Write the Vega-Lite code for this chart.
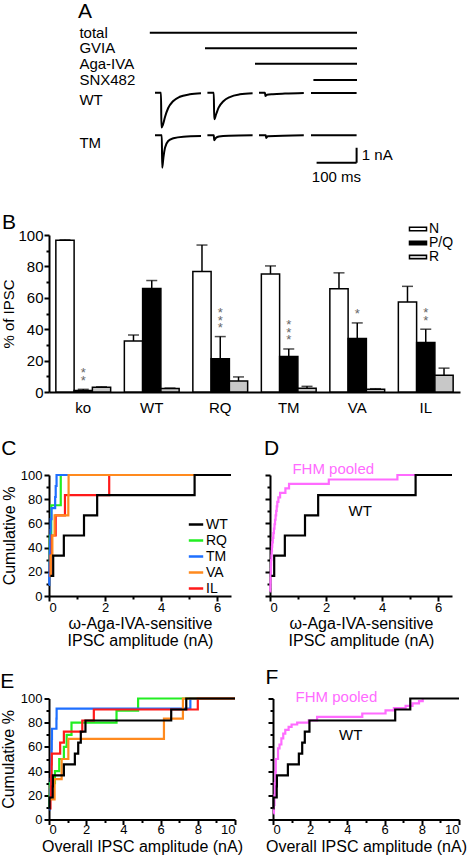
{
  "$schema": "https://vega.github.io/schema/vega-lite/v6.json",
  "background": "white",
  "padding": {"left": 0, "top": 0, "right": 0, "bottom": 0},
  "config": {
    "font": "Liberation Sans",
    "view": {"stroke": null},
    "axis": {"domainColor": "black", "domainWidth": 2, "tickColor": "black", "tickWidth": 2, "tickSize": 5, "labelColor": "black", "titleColor": "black", "labelFont": "Liberation Sans", "titleFont": "Liberation Sans", "titleFontWeight": "normal", "grid": false, "labelFontSize": 13, "titleFontSize": 16, "labelPadding": 2, "labelOverlap": false},
    "title": {"fontSize": 21, "fontWeight": "normal", "anchor": "start", "frame": "bounds", "color": "black", "font": "Liberation Sans", "baseline": "alphabetic"},
    "legend": {"labelFont": "Liberation Sans", "labelColor": "black", "padding": 0}
  },
  "resolve": {"scale": {"color": "independent", "fill": "independent"}, "legend": {"color": "independent", "fill": "independent"}},
  "datasets": {
    "protocol": [
      {"label": "total", "from": 362, "to": 880, "level": 10.22},
      {"label": "GVIA", "from": 500, "to": 880, "level": 9.18},
      {"label": "Aga-IVA", "from": 625, "to": 880, "level": 8.15},
      {"label": "SNX482", "from": 771, "to": 880, "level": 7.07}
    ],
    "rowLabels": [
      {"label": "total", "level": 10.22},
      {"label": "GVIA", "level": 9.18},
      {"label": "Aga-IVA", "level": 8.15},
      {"label": "SNX482", "level": 7.07},
      {"label": "WT", "level": 5.71},
      {"label": "TM", "level": 2.89}
    ],
    "traces": [
      {"genotype": "WT", "sweep": 1, "t": 375, "I": 6.22}, {"genotype": "WT", "sweep": 1, "t": 390, "I": 6.22}, {"genotype": "WT", "sweep": 1, "t": 391, "I": 3.9}, {"genotype": "WT", "sweep": 1, "t": 395, "I": 4.1}, {"genotype": "WT", "sweep": 1, "t": 400, "I": 4.6}, {"genotype": "WT", "sweep": 1, "t": 408, "I": 5.2}, {"genotype": "WT", "sweep": 1, "t": 420, "I": 5.65}, {"genotype": "WT", "sweep": 1, "t": 437, "I": 5.95}, {"genotype": "WT", "sweep": 1, "t": 462, "I": 6.11}, {"genotype": "WT", "sweep": 1, "t": 490, "I": 6.18},
      {"genotype": "WT", "sweep": 2, "t": 506, "I": 6.22}, {"genotype": "WT", "sweep": 2, "t": 522, "I": 6.22}, {"genotype": "WT", "sweep": 2, "t": 523, "I": 4.45}, {"genotype": "WT", "sweep": 2, "t": 528, "I": 4.8}, {"genotype": "WT", "sweep": 2, "t": 534, "I": 5.22}, {"genotype": "WT", "sweep": 2, "t": 546, "I": 5.65}, {"genotype": "WT", "sweep": 2, "t": 562, "I": 5.93}, {"genotype": "WT", "sweep": 2, "t": 587, "I": 6.11}, {"genotype": "WT", "sweep": 2, "t": 619, "I": 6.18},
      {"genotype": "WT", "sweep": 3, "t": 635, "I": 6.22}, {"genotype": "WT", "sweep": 3, "t": 650, "I": 6.22}, {"genotype": "WT", "sweep": 3, "t": 651, "I": 6.0}, {"genotype": "WT", "sweep": 3, "t": 655, "I": 6.08}, {"genotype": "WT", "sweep": 3, "t": 670, "I": 6.12}, {"genotype": "WT", "sweep": 3, "t": 700, "I": 6.16}, {"genotype": "WT", "sweep": 3, "t": 747, "I": 6.2},
      {"genotype": "WT", "sweep": 4, "t": 765, "I": 6.2}, {"genotype": "WT", "sweep": 4, "t": 879, "I": 6.2},
      {"genotype": "TM", "sweep": 1, "t": 375, "I": 3.38}, {"genotype": "TM", "sweep": 1, "t": 392, "I": 3.38}, {"genotype": "TM", "sweep": 1, "t": 393, "I": 1.22}, {"genotype": "TM", "sweep": 1, "t": 396, "I": 1.9}, {"genotype": "TM", "sweep": 1, "t": 400, "I": 2.55}, {"genotype": "TM", "sweep": 1, "t": 408, "I": 3.0}, {"genotype": "TM", "sweep": 1, "t": 421, "I": 3.18}, {"genotype": "TM", "sweep": 1, "t": 446, "I": 3.29}, {"genotype": "TM", "sweep": 1, "t": 490, "I": 3.33},
      {"genotype": "TM", "sweep": 2, "t": 506, "I": 3.38}, {"genotype": "TM", "sweep": 2, "t": 522, "I": 3.38}, {"genotype": "TM", "sweep": 2, "t": 523, "I": 3.05}, {"genotype": "TM", "sweep": 2, "t": 527, "I": 3.2}, {"genotype": "TM", "sweep": 2, "t": 535, "I": 3.3}, {"genotype": "TM", "sweep": 2, "t": 560, "I": 3.35}, {"genotype": "TM", "sweep": 2, "t": 619, "I": 3.38},
      {"genotype": "TM", "sweep": 3, "t": 635, "I": 3.38}, {"genotype": "TM", "sweep": 3, "t": 652, "I": 3.38}, {"genotype": "TM", "sweep": 3, "t": 653, "I": 3.2}, {"genotype": "TM", "sweep": 3, "t": 657, "I": 3.32}, {"genotype": "TM", "sweep": 3, "t": 747, "I": 3.38},
      {"genotype": "TM", "sweep": 4, "t": 765, "I": 3.38}, {"genotype": "TM", "sweep": 4, "t": 879, "I": 3.38}
    ],
    "scalebar": [
      {"t1": 779, "t2": 879, "I1": 1.55, "I2": 1.55},
      {"t1": 879, "t2": 879, "I1": 1.55, "I2": 2.55}
    ],
    "scalebarLabels": [
      {"text": "1 nA", "t": 892, "I": 2.07},
      {"text": "100 ms", "t": 767, "I": 0.6}
    ],
    "channels": [
      {"genotype": "ko", "type": "N", "pct": 96.6, "upper": 96.9, "stars": ""},
      {"genotype": "ko", "type": "P/Q", "pct": 1.0, "upper": 1.7, "stars": "*\n*"},
      {"genotype": "ko", "type": "R", "pct": 3.0, "upper": 3.3, "stars": ""},
      {"genotype": "WT", "type": "N", "pct": 32.5, "upper": 36.3, "stars": ""},
      {"genotype": "WT", "type": "P/Q", "pct": 66.0, "upper": 71.0, "stars": ""},
      {"genotype": "WT", "type": "R", "pct": 2.3, "upper": 2.5, "stars": ""},
      {"genotype": "RQ", "type": "N", "pct": 76.7, "upper": 93.6, "stars": ""},
      {"genotype": "RQ", "type": "P/Q", "pct": 21.2, "upper": 35.3, "stars": "*\n*\n*"},
      {"genotype": "RQ", "type": "R", "pct": 7.0, "upper": 9.6, "stars": ""},
      {"genotype": "TM", "type": "N", "pct": 75.2, "upper": 80.3, "stars": ""},
      {"genotype": "TM", "type": "P/Q", "pct": 22.6, "upper": 27.4, "stars": "*\n*\n*"},
      {"genotype": "TM", "type": "R", "pct": 2.4, "upper": 3.6, "stars": ""},
      {"genotype": "VA", "type": "N", "pct": 65.8, "upper": 75.9, "stars": ""},
      {"genotype": "VA", "type": "P/Q", "pct": 34.0, "upper": 44.0, "stars": "*"},
      {"genotype": "VA", "type": "R", "pct": 1.7, "upper": 2.1, "stars": ""},
      {"genotype": "IL", "type": "N", "pct": 57.3, "upper": 67.3, "stars": ""},
      {"genotype": "IL", "type": "P/Q", "pct": 31.6, "upper": 40.0, "stars": "*\n*"},
      {"genotype": "IL", "type": "R", "pct": 10.7, "upper": 15.2, "stars": ""}
    ],
    "aga": [
      {"genotype": "RQ", "amp": 0.01, "cum": 25}, {"genotype": "RQ", "amp": 0.03, "cum": 50}, {"genotype": "RQ", "amp": 0.08, "cum": 75}, {"genotype": "RQ", "amp": 0.42, "cum": 100}, {"genotype": "RQ", "amp": 6.5, "cum": 100},
      {"genotype": "TM", "amp": 0.0, "cum": 9.1}, {"genotype": "TM", "amp": 0.01, "cum": 18.2}, {"genotype": "TM", "amp": 0.02, "cum": 27.3}, {"genotype": "TM", "amp": 0.03, "cum": 36.4}, {"genotype": "TM", "amp": 0.04, "cum": 45.5}, {"genotype": "TM", "amp": 0.05, "cum": 54.5}, {"genotype": "TM", "amp": 0.06, "cum": 63.6}, {"genotype": "TM", "amp": 0.09, "cum": 72.7}, {"genotype": "TM", "amp": 0.22, "cum": 81.8}, {"genotype": "TM", "amp": 0.24, "cum": 90.9}, {"genotype": "TM", "amp": 0.27, "cum": 100}, {"genotype": "TM", "amp": 6.5, "cum": 100},
      {"genotype": "IL", "amp": 0.02, "cum": 16.7}, {"genotype": "IL", "amp": 0.06, "cum": 33.3}, {"genotype": "IL", "amp": 0.1, "cum": 50}, {"genotype": "IL", "amp": 0.24, "cum": 66.7}, {"genotype": "IL", "amp": 0.57, "cum": 83.3}, {"genotype": "IL", "amp": 2.15, "cum": 100}, {"genotype": "IL", "amp": 6.5, "cum": 100},
      {"genotype": "VA", "amp": 0.02, "cum": 16.7}, {"genotype": "VA", "amp": 0.06, "cum": 33.3}, {"genotype": "VA", "amp": 0.12, "cum": 50}, {"genotype": "VA", "amp": 0.2, "cum": 66.7}, {"genotype": "VA", "amp": 0.69, "cum": 83.3}, {"genotype": "VA", "amp": 0.7, "cum": 100}, {"genotype": "VA", "amp": 6.5, "cum": 100},
      {"genotype": "WT", "amp": 0.05, "cum": 16.7}, {"genotype": "WT", "amp": 0.15, "cum": 33.3}, {"genotype": "WT", "amp": 0.53, "cum": 50}, {"genotype": "WT", "amp": 1.25, "cum": 66.7}, {"genotype": "WT", "amp": 1.72, "cum": 83.3}, {"genotype": "WT", "amp": 5.2, "cum": 100}, {"genotype": "WT", "amp": 6.5, "cum": 100}
    ],
    "agaPooled": [
      {"group": "FHM pooled", "amp": 0.005, "cum": 3.7}, {"group": "FHM pooled", "amp": 0.01, "cum": 7.4}, {"group": "FHM pooled", "amp": 0.015, "cum": 11.1}, {"group": "FHM pooled", "amp": 0.02, "cum": 14.8}, {"group": "FHM pooled", "amp": 0.025, "cum": 18.5}, {"group": "FHM pooled", "amp": 0.03, "cum": 22.2}, {"group": "FHM pooled", "amp": 0.035, "cum": 25.9}, {"group": "FHM pooled", "amp": 0.04, "cum": 29.6}, {"group": "FHM pooled", "amp": 0.05, "cum": 33.3}, {"group": "FHM pooled", "amp": 0.06, "cum": 37.0}, {"group": "FHM pooled", "amp": 0.07, "cum": 40.7}, {"group": "FHM pooled", "amp": 0.08, "cum": 44.4}, {"group": "FHM pooled", "amp": 0.1, "cum": 48.1}, {"group": "FHM pooled", "amp": 0.12, "cum": 51.9}, {"group": "FHM pooled", "amp": 0.14, "cum": 55.6}, {"group": "FHM pooled", "amp": 0.16, "cum": 59.3}, {"group": "FHM pooled", "amp": 0.18, "cum": 63.0}, {"group": "FHM pooled", "amp": 0.2, "cum": 66.7}, {"group": "FHM pooled", "amp": 0.22, "cum": 70.4}, {"group": "FHM pooled", "amp": 0.24, "cum": 74.1}, {"group": "FHM pooled", "amp": 0.26, "cum": 77.8}, {"group": "FHM pooled", "amp": 0.3, "cum": 81.5}, {"group": "FHM pooled", "amp": 0.36, "cum": 85.2}, {"group": "FHM pooled", "amp": 0.55, "cum": 88.9}, {"group": "FHM pooled", "amp": 0.68, "cum": 92.6}, {"group": "FHM pooled", "amp": 2.1, "cum": 96.3}, {"group": "FHM pooled", "amp": 4.55, "cum": 100}, {"group": "FHM pooled", "amp": 6.5, "cum": 100},
      {"group": "WT", "amp": 0.05, "cum": 16.7}, {"group": "WT", "amp": 0.15, "cum": 33.3}, {"group": "WT", "amp": 0.53, "cum": 50}, {"group": "WT", "amp": 1.25, "cum": 66.7}, {"group": "WT", "amp": 1.72, "cum": 83.3}, {"group": "WT", "amp": 5.2, "cum": 100}, {"group": "WT", "amp": 6.5, "cum": 100}
    ],
    "agaLabels": [
      {"group": "FHM pooled", "amp": 2.26, "cum": 105},
      {"group": "WT", "amp": 3.22, "cum": 70}
    ],
    "overall": [
      {"genotype": "RQ", "amp": 0.02, "cum": 10}, {"genotype": "RQ", "amp": 0.03, "cum": 20}, {"genotype": "RQ", "amp": 0.05, "cum": 30}, {"genotype": "RQ", "amp": 0.32, "cum": 40}, {"genotype": "RQ", "amp": 0.55, "cum": 50}, {"genotype": "RQ", "amp": 0.8, "cum": 60}, {"genotype": "RQ", "amp": 0.95, "cum": 70}, {"genotype": "RQ", "amp": 1.21, "cum": 80}, {"genotype": "RQ", "amp": 3.63, "cum": 90}, {"genotype": "RQ", "amp": 4.79, "cum": 100}, {"genotype": "RQ", "amp": 10, "cum": 100},
      {"genotype": "TM", "amp": 0.02, "cum": 8.3}, {"genotype": "TM", "amp": 0.05, "cum": 16.7}, {"genotype": "TM", "amp": 0.08, "cum": 25}, {"genotype": "TM", "amp": 0.1, "cum": 33.3}, {"genotype": "TM", "amp": 0.12, "cum": 41.7}, {"genotype": "TM", "amp": 0.13, "cum": 50}, {"genotype": "TM", "amp": 0.14, "cum": 58.3}, {"genotype": "TM", "amp": 0.15, "cum": 66.7}, {"genotype": "TM", "amp": 0.16, "cum": 75}, {"genotype": "TM", "amp": 0.4, "cum": 83.3}, {"genotype": "TM", "amp": 0.41, "cum": 91.7}, {"genotype": "TM", "amp": 7.6, "cum": 100}, {"genotype": "TM", "amp": 10, "cum": 100},
      {"genotype": "IL", "amp": 0.05, "cum": 9.1}, {"genotype": "IL", "amp": 0.08, "cum": 18.2}, {"genotype": "IL", "amp": 0.1, "cum": 27.3}, {"genotype": "IL", "amp": 0.12, "cum": 36.4}, {"genotype": "IL", "amp": 0.14, "cum": 45.5}, {"genotype": "IL", "amp": 0.15, "cum": 54.5}, {"genotype": "IL", "amp": 0.6, "cum": 63.6}, {"genotype": "IL", "amp": 0.8, "cum": 72.7}, {"genotype": "IL", "amp": 1.79, "cum": 81.8}, {"genotype": "IL", "amp": 2.41, "cum": 90.9}, {"genotype": "IL", "amp": 8.0, "cum": 100}, {"genotype": "IL", "amp": 10, "cum": 100},
      {"genotype": "VA", "amp": 0.05, "cum": 16.7}, {"genotype": "VA", "amp": 0.3, "cum": 33.3}, {"genotype": "VA", "amp": 0.68, "cum": 50}, {"genotype": "VA", "amp": 1.04, "cum": 66.7}, {"genotype": "VA", "amp": 6.18, "cum": 83.3}, {"genotype": "VA", "amp": 7.2, "cum": 100}, {"genotype": "VA", "amp": 10, "cum": 100},
      {"genotype": "WT", "amp": 0.02, "cum": 9.1}, {"genotype": "WT", "amp": 0.03, "cum": 18.2}, {"genotype": "WT", "amp": 0.2, "cum": 27.3}, {"genotype": "WT", "amp": 0.21, "cum": 36.4}, {"genotype": "WT", "amp": 0.8, "cum": 45.5}, {"genotype": "WT", "amp": 1.39, "cum": 54.5}, {"genotype": "WT", "amp": 1.57, "cum": 63.6}, {"genotype": "WT", "amp": 1.71, "cum": 72.7}, {"genotype": "WT", "amp": 1.96, "cum": 81.8}, {"genotype": "WT", "amp": 6.57, "cum": 90.9}, {"genotype": "WT", "amp": 7.38, "cum": 100}, {"genotype": "WT", "amp": 10, "cum": 100}
    ],
    "overallPooled": [
      {"group": "FHM pooled", "amp": 0.02, "cum": 5}, {"group": "FHM pooled", "amp": 0.05, "cum": 12}, {"group": "FHM pooled", "amp": 0.08, "cum": 20}, {"group": "FHM pooled", "amp": 0.1, "cum": 30}, {"group": "FHM pooled", "amp": 0.13, "cum": 39}, {"group": "FHM pooled", "amp": 0.15, "cum": 50}, {"group": "FHM pooled", "amp": 0.27, "cum": 58.7}, {"group": "FHM pooled", "amp": 0.35, "cum": 62}, {"group": "FHM pooled", "amp": 0.45, "cum": 67}, {"group": "FHM pooled", "amp": 0.55, "cum": 71}, {"group": "FHM pooled", "amp": 0.66, "cum": 74}, {"group": "FHM pooled", "amp": 0.84, "cum": 76.6}, {"group": "FHM pooled", "amp": 1.0, "cum": 78.5}, {"group": "FHM pooled", "amp": 1.3, "cum": 80}, {"group": "FHM pooled", "amp": 1.92, "cum": 82}, {"group": "FHM pooled", "amp": 2.37, "cum": 84.8}, {"group": "FHM pooled", "amp": 4.8, "cum": 87.6}, {"group": "FHM pooled", "amp": 6.05, "cum": 90.2}, {"group": "FHM pooled", "amp": 6.5, "cum": 92}, {"group": "FHM pooled", "amp": 7.13, "cum": 93.9}, {"group": "FHM pooled", "amp": 7.5, "cum": 95.9}, {"group": "FHM pooled", "amp": 7.85, "cum": 97.8}, {"group": "FHM pooled", "amp": 8.05, "cum": 100},
      {"group": "WT", "amp": 0.02, "cum": 9.1}, {"group": "WT", "amp": 0.03, "cum": 18.2}, {"group": "WT", "amp": 0.2, "cum": 27.3}, {"group": "WT", "amp": 0.21, "cum": 36.4}, {"group": "WT", "amp": 0.8, "cum": 45.5}, {"group": "WT", "amp": 1.39, "cum": 54.5}, {"group": "WT", "amp": 1.57, "cum": 63.6}, {"group": "WT", "amp": 1.71, "cum": 72.7}, {"group": "WT", "amp": 1.96, "cum": 81.8}, {"group": "WT", "amp": 6.57, "cum": 90.9}, {"group": "WT", "amp": 7.38, "cum": 100}, {"group": "WT", "amp": 10, "cum": 100}
    ],
    "overallLabels": [
      {"group": "FHM pooled", "amp": 3.41, "cum": 101.6},
      {"group": "WT", "amp": 4.18, "cum": 70.2}
    ]
  },
  "spacing": 25,
  "vconcat": [
    {
      "title": {"text": "A", "offset": 4, "dx": 29},
      "width": 420,
      "height": 160,
      "layer": [
        {
          "data": {"name": "protocol"},
          "mark": {"type": "rule", "strokeWidth": 2, "color": "black"},
          "encoding": {
            "x": {"field": "from", "type": "quantitative", "scale": {"domain": [110, 1160], "nice": false, "zero": false}, "axis": null},
            "x2": {"field": "to"},
            "y": {"field": "level", "type": "quantitative", "scale": {"domain": [0, 10.667], "nice": false}, "axis": null}
          }
        },
        {
          "data": {"name": "rowLabels"},
          "mark": {"type": "text", "align": "left", "baseline": "middle", "fontSize": 15, "color": "black"},
          "encoding": {
            "x": {"datum": 186, "type": "quantitative", "axis": null},
            "y": {"field": "level", "type": "quantitative", "axis": null},
            "text": {"field": "label"}
          }
        },
        {
          "data": {"name": "traces"},
          "mark": {"type": "line", "strokeWidth": 2, "color": "black", "interpolate": "monotone"},
          "encoding": {
            "x": {"field": "t", "type": "quantitative", "axis": null},
            "y": {"field": "I", "type": "quantitative", "axis": null},
            "detail": [{"field": "genotype"}, {"field": "sweep"}]
          }
        },
        {
          "data": {"name": "scalebar"},
          "mark": {"type": "rule", "strokeWidth": 2, "color": "black"},
          "encoding": {
            "x": {"field": "t1", "type": "quantitative", "axis": null},
            "x2": {"field": "t2"},
            "y": {"field": "I1", "type": "quantitative", "axis": null},
            "y2": {"field": "I2"}
          }
        },
        {
          "data": {"name": "scalebarLabels"},
          "mark": {"type": "text", "align": "left", "baseline": "middle", "fontSize": 15, "color": "black"},
          "encoding": {
            "x": {"field": "t", "type": "quantitative", "axis": null},
            "y": {"field": "I", "type": "quantitative", "axis": null},
            "text": {"field": "text"}
          }
        }
      ]
    },
    {
      "spacing": 22,
      "resolve": {"scale": {"color": "independent", "fill": "independent"}, "legend": {"color": "independent", "fill": "independent"}},
      "vconcat": [
        {
          "title": {"text": "B", "offset": -10.5},
          "width": 411,
          "height": 157,
          "data": {"name": "channels"},
          "encoding": {
            "x": {"field": "genotype", "type": "nominal", "sort": ["ko", "WT", "RQ", "TM", "VA", "IL"], "scale": {"paddingInner": 0.2, "paddingOuter": 0.1}, "axis": {"title": null, "labelAngle": 0, "ticks": false, "tickSize": 0, "labelFontSize": 15, "labelPadding": 8}},
            "xOffset": {"field": "type", "type": "nominal", "sort": ["N", "P/Q", "R"]},
            "y": {"field": "pct", "type": "quantitative", "scale": {"domain": [0, 100], "nice": false}, "axis": {"title": "% of IPSC", "titleFontSize": 15, "labelFontSize": 15, "labelOverlap": false, "values": [0, 10, 20, 30, 40, 50, 60, 70, 80, 90, 100], "labelExpr": "datum.value % 20 === 0 ? datum.label : ''", "tickSize": {"condition": {"test": "datum.value % 20 === 0", "value": 5}, "value": 3}, "titlePadding": 1, "labelPadding": 1}}
          },
          "layer": [
            {
              "mark": {"type": "bar", "stroke": "black", "strokeWidth": 1.5},
              "encoding": {
                "fill": {"field": "type", "type": "nominal", "scale": {"domain": ["N", "P/Q", "R"], "range": ["white", "black", "#c8c8c8"]}, "legend": {"title": null, "orient": "none", "legendX": 362, "legendY": -13, "symbolType": "M-1.55,-0.3H1.55V0.3H-1.55Z", "symbolSize": 121, "symbolStrokeColor": "black", "symbolStrokeWidth": 1.5, "labelFontSize": 14, "rowPadding": -8, "labelOffset": 4}}
              }
            },
            {
              "mark": {"type": "rule", "strokeWidth": 1.5, "color": "black"},
              "encoding": {
                "y2": {"field": "upper"}
              }
            },
            {
              "mark": {"type": "tick", "orient": "horizontal", "thickness": 1.5, "size": 11, "color": "black"},
              "encoding": {
                "y": {"field": "upper", "type": "quantitative"}
              }
            },
            {
              "transform": [{"filter": "datum.stars == '*'"}],
              "mark": {"type": "text", "baseline": "bottom", "dy": -1.5, "lineBreak": "\n", "lineHeight": 7.5, "fontSize": 13, "color": "#666666"},
              "encoding": {
                "y": {"field": "upper", "type": "quantitative"},
                "text": {"field": "stars"}
              }
            },
            {
              "transform": [{"filter": "datum.stars == '*\\n*'"}],
              "mark": {"type": "text", "baseline": "bottom", "dy": -9, "lineBreak": "\n", "lineHeight": 7.5, "fontSize": 13, "color": "#666666"},
              "encoding": {
                "y": {"field": "upper", "type": "quantitative"},
                "text": {"field": "stars"}
              }
            },
            {
              "transform": [{"filter": "datum.stars == '*\\n*\\n*'"}],
              "mark": {"type": "text", "baseline": "bottom", "dy": -16.5, "lineBreak": "\n", "lineHeight": 7.5, "fontSize": 13, "color": "#666666"},
              "encoding": {
                "y": {"field": "upper", "type": "quantitative"},
                "text": {"field": "stars"}
              }
            }
          ]
        },
        {
          "spacing": 18.5,
          "resolve": {"scale": {"color": "independent"}, "legend": {"color": "independent"}},
          "vconcat": [
            {
              "spacing": 28,
              "resolve": {"scale": {"color": "independent"}, "legend": {"color": "independent"}},
              "hconcat": [
                {
                  "title": {"text": "C", "offset": 10},
                  "width": 182,
                  "height": 121,
                  "data": {"name": "aga"},
                  "mark": {"type": "line", "interpolate": "step-after", "strokeWidth": 2.2},
                  "encoding": {
                    "x": {"field": "amp", "type": "quantitative", "scale": {"domain": [0, 6.5], "nice": false}, "axis": {"title": ["ω-Aga-IVA-sensitive", "IPSC amplitude (nA)"], "titleLineHeight": 17, "titlePadding": 1, "labelPadding": 0, "labelOverlap": false, "values": [0, 1, 2, 3, 4, 5, 6], "labelExpr": "datum.value % 2 === 0 ? datum.label : ''", "tickSize": {"condition": {"test": "datum.value % 2 === 0", "value": 5}, "value": 3}}},
                    "y": {"field": "cum", "type": "quantitative", "scale": {"domain": [0, 100], "nice": false}, "axis": {"title": "Cumulative %", "titlePadding": 3, "labelOverlap": false, "values": [0, 10, 20, 30, 40, 50, 60, 70, 80, 90, 100], "labelExpr": "datum.value % 20 === 0 ? datum.label : ''", "tickSize": {"condition": {"test": "datum.value % 20 === 0", "value": 5}, "value": 3}}},
                    "color": {"field": "genotype", "type": "nominal", "scale": {"domain": ["WT", "RQ", "TM", "VA", "IL"], "range": ["#000000", "#22ee22", "#1e6fff", "#ff8a1e", "#ff1a1a"]}, "legend": {"title": null, "orient": "none", "legendX": 140, "legendY": 42.5, "symbolType": "M-1.6,0H1.6", "symbolSize": 81, "symbolStrokeWidth": 2.5, "labelFontSize": 14, "labelOffset": 3}}
                  }
                },
                {
                  "title": {"text": "D", "offset": 3},
                  "width": 182,
                  "height": 121,
                  "encoding": {
                    "x": {"field": "amp", "type": "quantitative", "scale": {"domain": [0, 6.5], "nice": false}, "axis": {"title": ["ω-Aga-IVA-sensitive", "IPSC amplitude (nA)"], "titleLineHeight": 17, "titlePadding": 1, "labelPadding": 0, "labelOverlap": false, "values": [0, 1, 2, 3, 4, 5, 6], "labelExpr": "datum.value % 2 === 0 ? datum.label : ''", "tickSize": {"condition": {"test": "datum.value % 2 === 0", "value": 5}, "value": 3}}},
                    "y": {"field": "cum", "type": "quantitative", "scale": {"domain": [0, 100], "nice": false}, "axis": {"title": null, "labels": false, "values": [0, 10, 20, 30, 40, 50, 60, 70, 80, 90, 100], "tickSize": {"condition": {"test": "datum.value % 20 === 0", "value": 5}, "value": 3}}},
                    "color": {"field": "group", "type": "nominal", "scale": {"domain": ["FHM pooled", "WT"], "range": ["#ff6bff", "#000000"]}, "legend": null}
                  },
                  "layer": [
                    {
                      "data": {"name": "agaPooled"},
                      "mark": {"type": "line", "interpolate": "step-after", "strokeWidth": 2.2}
                    },
                    {
                      "data": {"name": "agaLabels"},
                      "mark": {"type": "text", "fontSize": 15, "baseline": "middle", "align": "center"},
                      "encoding": {
                        "text": {"field": "group"}
                      }
                    }
                  ]
                }
              ]
            },
            {
              "spacing": 22,
              "resolve": {"scale": {"color": "independent"}, "legend": {"color": "independent"}},
              "hconcat": [
                {
                  "title": {"text": "E", "offset": 1},
                  "width": 186,
                  "height": 121,
                  "data": {"name": "overall"},
                  "mark": {"type": "line", "interpolate": "step-after", "strokeWidth": 2.2},
                  "encoding": {
                    "x": {"field": "amp", "type": "quantitative", "scale": {"domain": [0, 10], "nice": false}, "axis": {"title": "Overall IPSC amplitude (nA)", "titlePadding": 2, "labelPadding": -1, "labelOverlap": false, "values": [0, 1, 2, 3, 4, 5, 6, 7, 8, 9, 10], "labelExpr": "datum.value % 2 === 0 ? datum.label : ''", "tickSize": {"condition": {"test": "datum.value % 2 === 0", "value": 5}, "value": 3}}},
                    "y": {"field": "cum", "type": "quantitative", "scale": {"domain": [0, 100], "nice": false}, "axis": {"title": "Cumulative %", "titlePadding": 4, "labelOverlap": false, "values": [0, 10, 20, 30, 40, 50, 60, 70, 80, 90, 100], "labelExpr": "datum.value % 20 === 0 ? datum.label : ''", "tickSize": {"condition": {"test": "datum.value % 20 === 0", "value": 5}, "value": 3}}},
                    "color": {"field": "genotype", "type": "nominal", "scale": {"domain": ["WT", "RQ", "TM", "VA", "IL"], "range": ["#000000", "#22ee22", "#1e6fff", "#ff8a1e", "#ff1a1a"]}, "legend": null}
                  }
                },
                {
                  "title": {"text": "F", "offset": 2},
                  "width": 186,
                  "height": 121,
                  "encoding": {
                    "x": {"field": "amp", "type": "quantitative", "scale": {"domain": [0, 10], "nice": false}, "axis": {"title": "Overall IPSC amplitude (nA)", "titlePadding": 2, "labelPadding": -1, "labelOverlap": false, "values": [0, 1, 2, 3, 4, 5, 6, 7, 8, 9, 10], "labelExpr": "datum.value % 2 === 0 ? datum.label : ''", "tickSize": {"condition": {"test": "datum.value % 2 === 0", "value": 5}, "value": 3}}},
                    "y": {"field": "cum", "type": "quantitative", "scale": {"domain": [0, 100], "nice": false}, "axis": {"title": null, "labels": false, "values": [0, 10, 20, 30, 40, 50, 60, 70, 80, 90, 100], "tickSize": {"condition": {"test": "datum.value % 20 === 0", "value": 5}, "value": 3}}},
                    "color": {"field": "group", "type": "nominal", "scale": {"domain": ["FHM pooled", "WT"], "range": ["#ff6bff", "#000000"]}, "legend": null}
                  },
                  "layer": [
                    {
                      "data": {"name": "overallPooled"},
                      "mark": {"type": "line", "interpolate": "step-after", "strokeWidth": 2.2}
                    },
                    {
                      "data": {"name": "overallLabels"},
                      "mark": {"type": "text", "fontSize": 15, "baseline": "middle", "align": "center"},
                      "encoding": {
                        "text": {"field": "group"}
                      }
                    }
                  ]
                }
              ]
            }
          ]
        }
      ]
    }
  ]
}
